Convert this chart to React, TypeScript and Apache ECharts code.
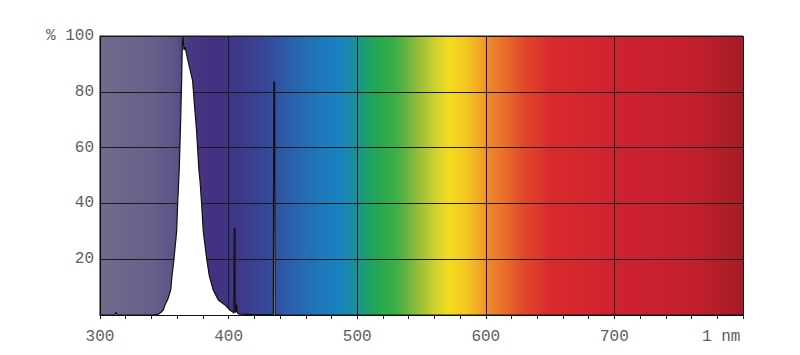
import React, { useEffect, useRef } from "react";
import * as echarts from "echarts";

// Relative spectral power distribution (wavelength nm, percent)
const wavelengths = [
  300, 310, 311.5, 312.5, 313.5, 340, 345, 347, 349.2, 350.5, 353, 355, 356, 357.5, 359.6, 360.4,
  361.6, 362.5, 363.5, 364, 364.5, 365.3, 366.2, 368, 370, 372, 373.5, 375.1, 376.9, 377.8, 379,
  380.3, 383, 385, 388, 392, 397.2, 401, 403.5, 404.2, 404.4, 405, 405.2, 405.8, 406.2, 406.7, 408,
  420, 434.8, 435.1, 435.8, 436.1, 440, 500, 600, 700, 800,
];
const intensity = [
  0, 0, 0, 1, 0, 0, 0.2, 0.8, 1.8, 3.6, 6, 9, 14, 20, 30, 40,
  52, 66, 84, 97, 100, 95, 96, 92, 88, 84, 75, 66, 52, 48, 40,
  30, 20, 14, 9, 5.4, 3.6, 1.8, 1, 0.6, 31, 31, 1, 1.2, 4, 0.8, 0.3,
  0.1, 0.1, 83.5, 83.5, 0.1, 0, 0, 0, 0, 0,
];

// Visible spectrum background (wavelength nm, colour)
const bandNm = [
  300, 340, 360, 368, 390, 410, 430, 450, 470, 485, 495, 505, 515, 530, 545, 560, 572, 585, 597,
  602, 615, 630, 650, 700, 760, 800,
];
const bandColor = [
  "#6f6c8a", "#66608a", "#5b5288", "#4a3884", "#423080", "#3e398a", "#37489b", "#2a63ad",
  "#1f77bb", "#1a82c0", "#1b8aa8", "#1a9c78", "#22a752", "#3cae47", "#8ab93b", "#cdd030",
  "#f5dc1e", "#f4c622", "#f0a125", "#ee892b", "#e96d2b", "#e2462a", "#d92b2c", "#cf2231",
  "#c31f2d", "#a61c25",
];

const xTicks = [300, 400, 500, 600, 700, 800];
const yTicks = [0, 20, 40, 60, 80, 100];

const FONT = "Liberation Mono, DejaVu Sans Mono, monospace";
const TEXT = "#606060";

export default function App() {
  const ref = useRef<HTMLDivElement>(null);

  useEffect(() => {
    if (!ref.current) return;
    const chart = echarts.init(ref.current, undefined, { renderer: "svg" });
    const xMin = xTicks[0];
    const xMax = xTicks[xTicks.length - 1];
    const stops = bandNm.map((nm, i) => ({
      offset: (nm - xMin) / (xMax - xMin),
      color: bandColor[i],
    }));
    const gradient = new echarts.graphic.LinearGradient(0, 0, 1, 0, stops);

    chart.setOption({
      animation: false,
      backgroundColor: "#ffffff",
      grid: {
        left: 100,
        top: 36,
        width: 643,
        height: 279,
        show: true,
        borderColor: "#1a1a1a",
        borderWidth: 1,
        backgroundColor: "transparent",
      },
      xAxis: {
        type: "value",
        min: xMin,
        max: xMax,
        interval: 100,
        z: 5,
        axisLine: { show: true, onZero: false, lineStyle: { color: "#111", width: 1.2 } },
        axisTick: { show: true, length: 4, lineStyle: { color: "#111" } },
        minorTick: { show: true, splitNumber: 5, length: 4, lineStyle: { color: "#111" } },
        splitLine: { show: true, lineStyle: { color: "#1a1a1a", width: 1 } },
        axisLabel: {
          margin: 14,
          fontFamily: FONT,
          fontSize: 16,
          color: TEXT,
          formatter: (v: number) => (v === xMax ? "{r|1 nm}" : String(v)),
          rich: {
            r: { width: 82, align: "left", fontFamily: FONT, fontSize: 16, color: TEXT },
          },
        },
      },
      yAxis: {
        type: "value",
        min: yTicks[0],
        max: yTicks[yTicks.length - 1],
        interval: 20,
        z: 5,
        axisLine: { show: true, lineStyle: { color: "#111", width: 1.2 } },
        axisTick: { show: false },
        splitLine: { show: true, lineStyle: { color: "#1a1a1a", width: 1 } },
        axisLabel: {
          margin: 6,
          fontFamily: FONT,
          fontSize: 16,
          color: TEXT,
          formatter: (v: number) => (v === 0 ? "" : v === 100 ? "% 100" : String(v)),
        },
      },
      series: [
        {
          type: "custom",
          z: 1,
          silent: true,
          data: [[xMin, 0, xMax, 100]],
          renderItem: (_params: any, api: any) => {
            const p0 = api.coord([api.value(0), api.value(3)]);
            const p1 = api.coord([api.value(2), api.value(1)]);
            return {
              type: "rect",
              shape: { x: p0[0], y: p0[1], width: p1[0] - p0[0], height: p1[1] - p0[1] },
              style: { fill: gradient },
            };
          },
        },
        {
          type: "line",
          z: 10,
          data: wavelengths.map((w, i) => [w, intensity[i]]),
          showSymbol: false,
          symbol: "none",
          lineStyle: { color: "#111", width: 1.2 },
          areaStyle: { color: "#ffffff", opacity: 1 },
        },
      ],
    });
    return () => chart.dispose();
  }, []);

  return (
    <div
      ref={ref}
      style={{ position: "absolute", left: 0, top: 0, width: 800, height: 355 }}
    />
  );
}
